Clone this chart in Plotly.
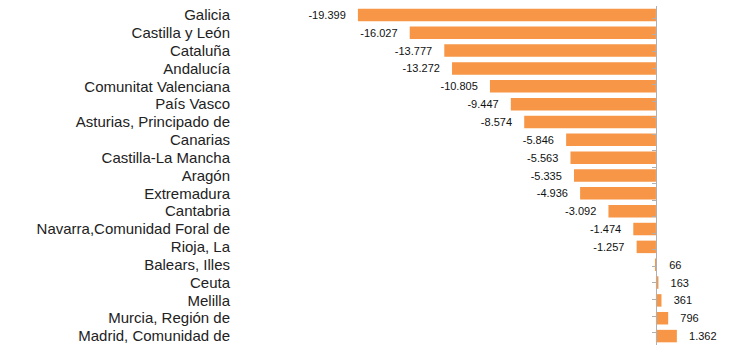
import plotly.graph_objects as go

regions = ["Galicia", "Castilla y León", "Cataluña", "Andalucía", "Comunitat Valenciana",
           "País Vasco", "Asturias, Principado de", "Canarias", "Castilla-La Mancha", "Aragón",
           "Extremadura", "Cantabria", "Navarra,Comunidad Foral de", "Rioja, La", "Balears, Illes",
           "Ceuta", "Melilla", "Murcia, Región de", "Madrid, Comunidad de"]
values = [-19399, -16027, -13777, -13272, -10805, -9447, -8574, -5846, -5563, -5335,
          -4936, -3092, -1474, -1257, 66, 163, 361, 796, 1362]

def fmt(v):
    s = f"{v:,}".replace(",", ".")
    pad = "\u00a0\u00a0\u00a0"
    return s + pad if v < 0 else pad + s

labels = [fmt(v) for v in values]

xmin, xmax = -27400, 4170
L, R, T, B = 235, 14, 6, 19
W, H = 734, 364
zero_pos = (0 - xmin) / (xmax - xmin)

fig = go.Figure()
fig.add_trace(go.Bar(
    x=values, y=regions, orientation="h",
    marker=dict(color="#F79646", line=dict(width=0)),
    text=labels, textposition="outside", cliponaxis=False,
    textfont=dict(family="Liberation Sans, Arial", size=11, color="#111111"),
    hoverinfo="skip", showlegend=False,
))
fig.add_trace(go.Scatter(
    x=[0] * len(regions), y=regions, yaxis="y2", mode="markers",
    marker=dict(opacity=0), hoverinfo="skip", showlegend=False,
))
fig.update_layout(
    width=W, height=H,
    margin=dict(l=L, r=R, t=T, b=B, autoexpand=False),
    plot_bgcolor="white", paper_bgcolor="white",
    bargap=0.3,
    xaxis=dict(range=[xmin, xmax], showgrid=False, zeroline=False, automargin=False,
               showticklabels=False, showline=False, ticks=""),
    yaxis=dict(categoryorder="array", categoryarray=regions, autorange="reversed",
               tickmode="array", tickvals=regions, ticktext=regions,
               showgrid=False, zeroline=False, showline=False, ticks="", automargin=False,
               tickfont=dict(family="Liberation Sans, Arial", size=15, color="#222222"),
               ticklabelstandoff=4),
    yaxis2=dict(overlaying="y", anchor="free", position=zero_pos, side="left",
                categoryorder="array", categoryarray=regions, autorange="reversed",
                tickmode="array", tickvals=regions,
                showgrid=False, zeroline=False, showline=True, linecolor="#B0B0B0",
                linewidth=1, ticks="outside", ticklen=4, tickcolor="#B0B0B0", automargin=False,
                tickson="boundaries", showticklabels=False),
)
fig.write_html("out.html", config={"displayModeBar": False},
               post_script="document.body.style.margin='0';")
